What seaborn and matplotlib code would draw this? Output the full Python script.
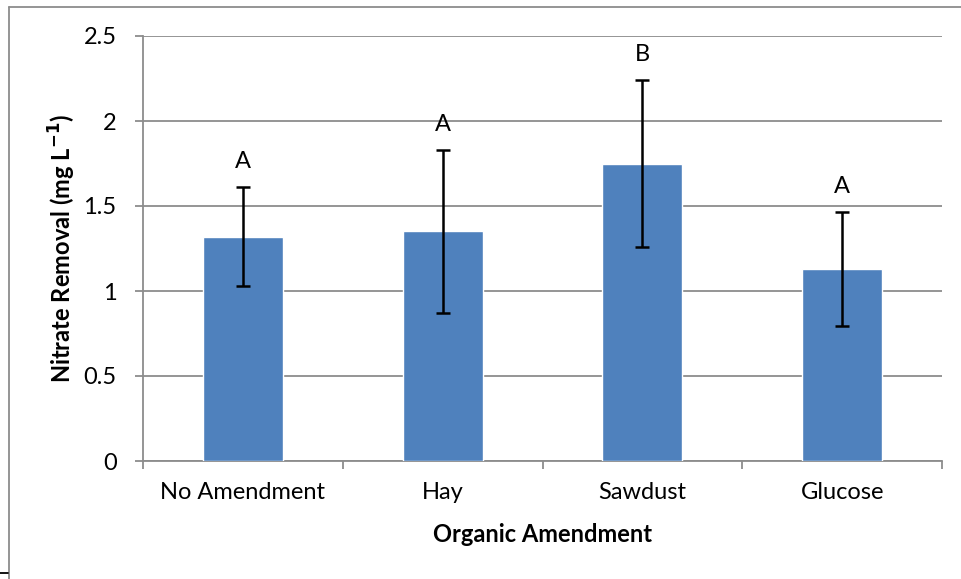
import matplotlib
matplotlib.use("Agg")
import matplotlib.pyplot as plt
from matplotlib.lines import Line2D
from matplotlib.ticker import FixedLocator, NullFormatter
import seaborn as sns
import pandas as pd

amendments = ["No Amendment", "Hay", "Sawdust", "Glucose"]
removal = [1.32, 1.35, 1.75, 1.13]
removal_err = [0.29, 0.48, 0.49, 0.335]
groups = ["A", "A", "B", "A"]

sns.set_theme(style="white")
plt.rcParams["font.family"] = ["Lato", "DejaVu Sans"]

df = pd.DataFrame({"Amendment": amendments, "Removal": removal})

fig = plt.figure(figsize=(9.61, 5.79), dpi=100)
ax = fig.add_axes([143 / 961, 118 / 579, 799 / 961, 425 / 579])

grey = "#8c8c8c"
fs = 17
sns.barplot(data=df, x="Amendment", y="Removal", color="#4F81BD",
            saturation=1, width=0.4, errorbar=None, ax=ax, zorder=3)
ax.errorbar(range(len(amendments)), removal, yerr=removal_err, fmt="none",
            ecolor="black", elinewidth=1.8, capsize=5, capthick=1.8, zorder=4)

for i, (v, e, g) in enumerate(zip(removal, removal_err, groups)):
    ax.annotate(g, (i, v + e), xytext=(0, 11), textcoords="offset points",
                ha="center", va="bottom", fontsize=fs, color="black")

ax.set_xlim(-0.5, 3.5)
ax.set_ylim(0, 2.5)
ax.set_yticks([0, 0.5, 1, 1.5, 2, 2.5])
ax.set_yticklabels(["0", "0.5", "1", "1.5", "2", "2.5"])
ax.yaxis.grid(True, color=grey, linewidth=1.3, zorder=0)
ax.set_axisbelow(True)

# category ticks centred without marks, boundary ticks as minor marks
ax.tick_params(axis="x", which="major", length=0, pad=15, labelsize=fs,
               labelcolor="black")
ax.xaxis.set_minor_locator(FixedLocator([-0.5, 0.5, 1.5, 2.5, 3.5]))
ax.xaxis.set_minor_formatter(NullFormatter())
ax.tick_params(axis="x", which="minor", length=6, width=1.3, color=grey,
               direction="out", bottom=True)
ax.tick_params(axis="y", which="major", length=6, width=1.3, color=grey,
               direction="out", left=True, labelsize=fs, pad=13,
               labelcolor="black")

for side in ["top", "right"]:
    ax.spines[side].set_visible(False)
for side in ["left", "bottom"]:
    ax.spines[side].set_color(grey)
    ax.spines[side].set_linewidth(1.3)

ax.set_xlabel("Organic Amendment", fontsize=fs, fontweight="bold",
              color="black")
ax.xaxis.set_label_coords(0.5, (461 - 534) / 425)
ax.xaxis.label.set_va("center")
ax.set_ylabel("Nitrate Removal (mg L$^{\\mathbf{-1}}$)", fontsize=fs,
              fontweight="bold", color="black")
ax.yaxis.set_label_coords((62 - 143) / 799, 0.5)
ax.yaxis.label.set_va("center")

# partial chart frame
fw, fh = 961, 579
fig.add_artist(Line2D([9 / fw, 1.0], [1 - 7 / fh, 1 - 7 / fh],
                      color=grey, linewidth=1.3, transform=fig.transFigure))
fig.add_artist(Line2D([9 / fw, 9 / fw], [0, 1 - 7 / fh],
                      color=grey, linewidth=1.3, transform=fig.transFigure))
fig.add_artist(Line2D([0, 8 / fw], [6 / fh, 6 / fh],
                      color="black", linewidth=1.3, transform=fig.transFigure))

fig.savefig("out.png", dpi=100)
